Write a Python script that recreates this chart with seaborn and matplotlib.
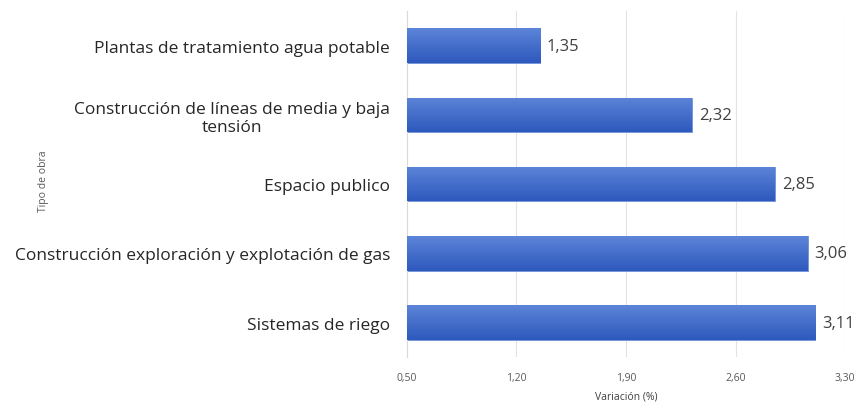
import numpy as np
import pandas as pd
import matplotlib
matplotlib.use("Agg")
import matplotlib.pyplot as plt
import seaborn as sns

# datos
categorias = [
    "Plantas de tratamiento agua potable",
    "Construcción de líneas de media y baja\ntensión",
    "Espacio publico",
    "Construcción exploración y explotación de gas",
    "Sistemas de riego",
]
variacion = [1.35, 2.32, 2.85, 3.06, 3.11]
etiquetas = ["1,35", "2,32", "2,85", "3,06", "3,11"]
ticks_x = [0.50, 1.20, 1.90, 2.60, 3.30]
ticks_x_lab = ["0,50", "1,20", "1,90", "2,60", "3,30"]

df = pd.DataFrame({"tipo": categorias, "var": variacion})

sns.set_style("white")
plt.rcParams["font.family"] = ["Open Sans", "DejaVu Sans"]

fig, ax = plt.subplots(figsize=(8.58, 4.06), dpi=100)
fig.subplots_adjust(left=0.474, right=0.985, top=0.970, bottom=0.118)

sns.barplot(data=df, x="var", y="tipo", color="#3F67C8", width=0.5,
            ax=ax, zorder=2)

# degradado en las barras
grad = np.linspace(0, 1, 64).reshape(-1, 1)
cmap = matplotlib.colors.LinearSegmentedColormap.from_list("g", ["#5C84D8", "#2E59BD"])
for p in ax.patches:
    x0, y0 = p.get_x(), p.get_y()
    w, h = p.get_width(), p.get_height()
    x1 = x0 + w
    x0 = max(x0, 0.5)
    im = ax.imshow(grad, cmap=cmap, aspect="auto", extent=[x0, x1, y0 + h, y0],
                   zorder=3, interpolation="bicubic")
    im.set_clip_path(p)
    p.set_edgecolor("#6F92DD")
    p.set_linewidth(0.6)

for i, (v, t) in enumerate(zip(variacion, etiquetas)):
    ax.text(v + 0.045, i, t, va="center", ha="left", fontsize=12, color="#404040")

ax.set_xlim(0.5, 3.3)
ax.set_ylim(4.5, -0.5)
ax.set_xticks(ticks_x)
ax.set_xticklabels(ticks_x_lab, fontsize=7.5, color="#595959")
ax.tick_params(axis="y", labelsize=12.5, labelcolor="#262626", length=0, pad=12)
for lbl in ax.get_yticklabels():
    lbl.set_multialignment("center")
ax.tick_params(axis="x", length=0, pad=11)
ax.grid(axis="x", color="#E3E3E3", linewidth=0.8, zorder=0)
ax.set_axisbelow(True)
for s in ["top", "right", "bottom"]:
    ax.spines[s].set_visible(False)
ax.spines["left"].set_color("#D9D9D9")
ax.spines["left"].set_linewidth(0.8)
# marcas pequeñas entre categorías
ax.set_yticks([-0.5, 0.5, 1.5, 2.5, 3.5, 4.5], minor=True)
ax.tick_params(axis="y", which="minor", length=4, color="#D9D9D9", width=0.8)

ax.set_xlabel("Variación (%)", fontsize=7.5, color="#404040", labelpad=5)
ax.set_ylabel("")
fig.text(0.051, 0.554, "Tipo de obra", rotation=90, fontsize=7.5, color="#595959",
         ha="center", va="center")

fig.savefig("out.png", dpi=100)
